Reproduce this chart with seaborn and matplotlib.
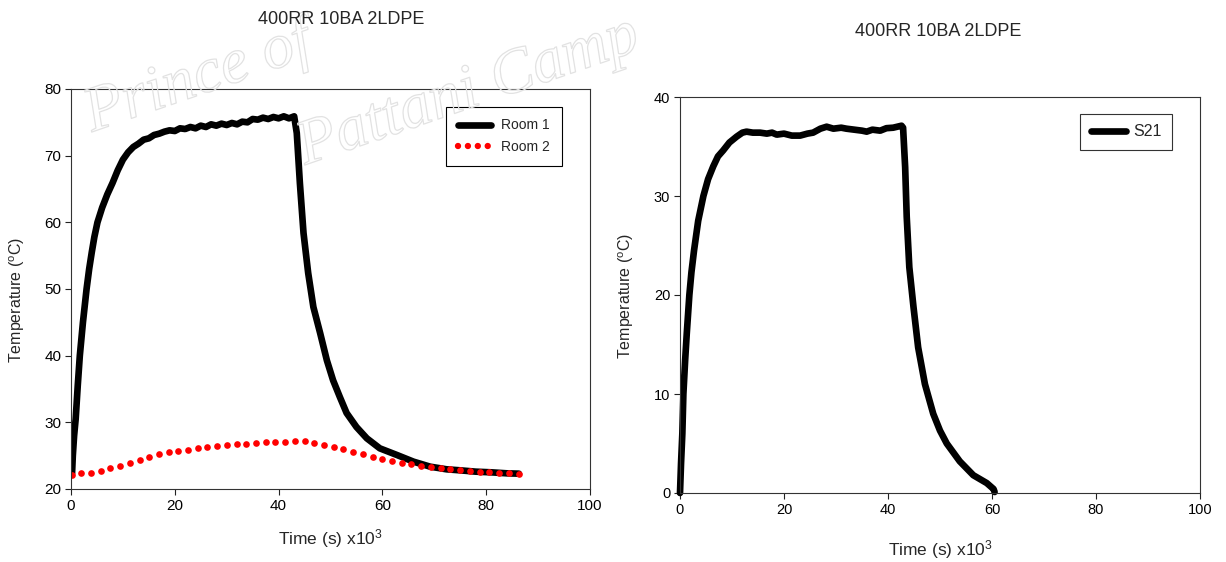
import numpy as np
import pandas as pd
import matplotlib
matplotlib.use("Agg")
import matplotlib.pyplot as plt
import matplotlib.patheffects as pe
from matplotlib.lines import Line2D
import seaborn as sns

# ---------------- data ----------------
title_text = "400RR 10BA 2LDPE"

room1_time = [0.2, 0.35, 0.6, 0.9, 1.3, 1.7, 2.3, 3.0, 3.5, 4.0, 4.5, 5.1, 6.0, 7.0, 8.0,
              9.0, 10, 11, 12, 13, 14, 15, 16, 17, 18, 19, 20, 21, 22, 23, 24, 25, 26,
              27, 28, 29, 30, 31, 32, 33, 34, 35, 36, 37, 38, 39, 40, 41, 42, 43,
              43.5, 44.1, 44.8, 45.7, 46.7, 48.0, 49.3, 50.5, 51.8, 53.1, 55.0, 57.0,
              59.5, 62.8, 66.0, 69.2, 72.4, 75.0, 78.0, 81.0, 84.0, 86.3]
room1_temp = [22.3, 25.0, 28.0, 30.5, 35.5, 40.0, 45.0, 50.0, 53.0, 55.5, 57.8, 60.0, 62.2,
              64.2, 65.9, 67.8, 69.4, 70.5, 71.3, 71.8, 72.4, 72.6, 73.1, 73.3, 73.6, 73.8,
              73.7, 74.1, 74.0, 74.3, 74.1, 74.5, 74.3, 74.7, 74.5, 74.8, 74.6, 74.9, 74.7,
              75.1, 75.0, 75.5, 75.4, 75.7, 75.5, 75.8, 75.6, 75.9, 75.6, 75.9,
              73.4, 65.9, 58.4, 52.4, 47.3, 43.4, 39.3, 36.3, 33.8, 31.4, 29.3, 27.6,
              26.1, 25.1, 24.1, 23.35, 22.95, 22.8, 22.6, 22.5, 22.35, 22.3]

room2_time = [0.1, 2.0, 3.9, 5.7, 7.6, 9.5, 11.3, 13.2, 15.1, 16.9, 18.8, 20.7, 22.5, 24.4,
              26.3, 28.2, 30.0, 31.9, 33.8, 35.6, 37.5, 39.4, 41.3, 43.1, 45.0, 46.9, 48.8,
              50.6, 52.5, 54.4, 56.3, 58.1, 60.0, 61.9, 63.8, 65.6, 67.5, 69.4, 71.3, 73.1,
              75.0, 76.9, 78.8, 80.6, 82.5, 84.4, 86.3]
room2_temp = [22.1, 22.35, 22.45, 22.75, 23.1, 23.5, 23.95, 24.35, 24.8, 25.2, 25.5, 25.7,
              25.9, 26.1, 26.3, 26.5, 26.6, 26.7, 26.8, 26.9, 27.0, 27.1, 27.1, 27.2, 27.2,
              26.9, 26.65, 26.3, 26.0, 25.5, 25.2, 24.8, 24.5, 24.2, 23.9, 23.7, 23.5,
              23.35, 23.1, 22.95, 22.85, 22.75, 22.6, 22.55, 22.45, 22.35, 22.25]

s21_time = [0.0, 0.2, 0.45, 0.65, 1.0, 1.3, 1.8, 2.2, 2.7, 3.5, 4.5, 5.4, 6.4, 7.3, 8.3,
            9.5, 10.9, 12.0, 12.8, 14.0, 15.4, 16.7, 17.7, 18.6, 20.0, 21.5, 23.1, 24.5,
            25.6, 27.0, 28.2, 29.5, 31.0, 32.0, 33.5, 35.0, 35.9, 37.0, 38.5, 39.7, 41.0,
            42.6, 42.9, 43.3, 43.6, 44.1, 44.9, 45.8, 47.1, 48.7, 50.0, 51.3, 53.8, 56.4,
            59.0, 60.3, 60.5]
s21_temp = [0.0, 3.0, 6.0, 10.0, 13.5, 16.1, 20.0, 22.3, 24.5, 27.5, 30.0, 31.7, 33.0,
            34.0, 34.6, 35.4, 36.0, 36.4, 36.5, 36.4, 36.4, 36.3, 36.4, 36.2, 36.3, 36.1,
            36.1, 36.3, 36.4, 36.8, 37.0, 36.8, 36.9, 36.8, 36.7, 36.6, 36.5, 36.7, 36.6,
            36.85, 36.9, 37.1, 36.9, 32.9, 27.9, 22.8, 18.8, 14.7, 11.0, 8.0, 6.3, 5.0,
            3.2, 1.8, 1.0, 0.4, 0.1]

x_ticks = [0, 20, 40, 60, 80, 100]
left_y_ticks = [20, 30, 40, 50, 60, 70, 80]
right_y_ticks = [0, 10, 20, 30, 40]
series_labels = ["Room 1", "Room 2", "S21"]

# ---------------- style ----------------
sns.set_style("white")
plt.rcParams["font.family"] = ["Liberation Sans", "DejaVu Sans"]
plt.rcParams["mathtext.fontset"] = "custom"
plt.rcParams["mathtext.rm"] = "Liberation Sans"
plt.rcParams["mathtext.it"] = "Liberation Sans:italic"

fig = plt.figure(figsize=(12.26, 5.62), dpi=100)
W, H = 1226.0, 562.0
ax1 = fig.add_axes([71 / W, 1 - 489 / H, 519 / W, 400 / H])
ax2 = fig.add_axes([680 / W, 1 - 493 / H, 520 / W, 396 / H])

# faint watermark
wm = dict(rotation=19, rotation_mode="anchor", ha="left", va="baseline", fontsize=46,
          family="Liberation Serif", style="italic", color=(1, 1, 1, 0),
          path_effects=[pe.withStroke(linewidth=0.9, foreground="#e2e2e2")], zorder=0)
fig.text(92 / W, 1 - 132 / H, "Prince of", **wm)
fig.text(305 / W, 1 - 165 / H, "Pattani Camp", **wm)

# left chart
d1 = pd.DataFrame({"t": room1_time, "T": room1_temp})
d2 = pd.DataFrame({"t": room2_time, "T": room2_temp})
sns.lineplot(data=d1, x="t", y="T", ax=ax1, color="black", linewidth=4.8, sort=False,
             estimator=None, solid_capstyle="round", solid_joinstyle="round")
sns.lineplot(data=d2, x="t", y="T", ax=ax1, color="red", linestyle="", marker="o",
             markersize=4.8, markeredgewidth=0, sort=False, estimator=None)

# right chart
d3 = pd.DataFrame({"t": s21_time, "T": s21_temp})
sns.lineplot(data=d3, x="t", y="T", ax=ax2, color="black", linewidth=4.8, sort=False,
             estimator=None, solid_capstyle="round", solid_joinstyle="round", clip_on=False)

for ax, yt, lsz in ((ax1, left_y_ticks, 11), (ax2, right_y_ticks, 10.5)):
    ax.set_xlim(0, 100)
    ax.set_ylim(yt[0], yt[-1])
    ax.set_xticks(x_ticks)
    ax.set_yticks(yt)
    ax.tick_params(axis="both", which="both", direction="out", length=4, width=0.8,
                   labelsize=lsz, colors="#222222", labelcolor="black", pad=3,
                   bottom=True, left=True, top=False, right=False)
    for s in ax.spines.values():
        s.set_visible(True)
        s.set_color("#333333")
        s.set_linewidth(0.8)
    ax.set_xlabel("Time (s) x10$^{3}$", fontsize=12.5)
    ax.set_ylabel("Temperature ($^{\\mathrm{o}}$C)", fontsize=11.5)

ax1.xaxis.set_label_coords(0.5, -0.095)
ax1.yaxis.set_label_coords(-0.085, 0.4725)
ax2.xaxis.set_label_coords(0.5, -0.115)
ax2.yaxis.set_label_coords(-0.085, 0.497)

fig.text(341 / W, 1 - 20 / H, title_text, ha="center", va="center", fontsize=13)
fig.text(938 / W, 1 - 32 / H, title_text, ha="center", va="center", fontsize=13)

# legends
h1 = Line2D([], [], color="black", lw=4.8, solid_capstyle="round")
h2 = Line2D([], [], color="red", lw=4.6, linestyle=(0, (0.001, 1.55)), dash_capstyle="round")
leg1 = ax1.legend(handles=[h1, h2], labels=series_labels[:2], loc="upper right",
                  bbox_to_anchor=(0.9455, 0.9558), frameon=True, fancybox=False,
                  edgecolor="black", framealpha=1, fontsize=10, handlelength=2.4,
                  borderpad=0.85, labelspacing=0.55, handletextpad=0.7, borderaxespad=0)
leg1.get_frame().set_linewidth(0.8)

h3 = Line2D([], [], color="black", lw=4.8, solid_capstyle="round")
leg2 = ax2.legend(handles=[h3], labels=series_labels[2:], loc="upper right",
                  bbox_to_anchor=(0.9456, 0.957), frameon=True, fancybox=False,
                  edgecolor="#333333", framealpha=1, fontsize=11.5, handlelength=2.2,
                  borderpad=0.65, handletextpad=0.45, borderaxespad=0)
leg2.get_frame().set_linewidth(0.8)

fig.savefig("out.png", dpi=100)
